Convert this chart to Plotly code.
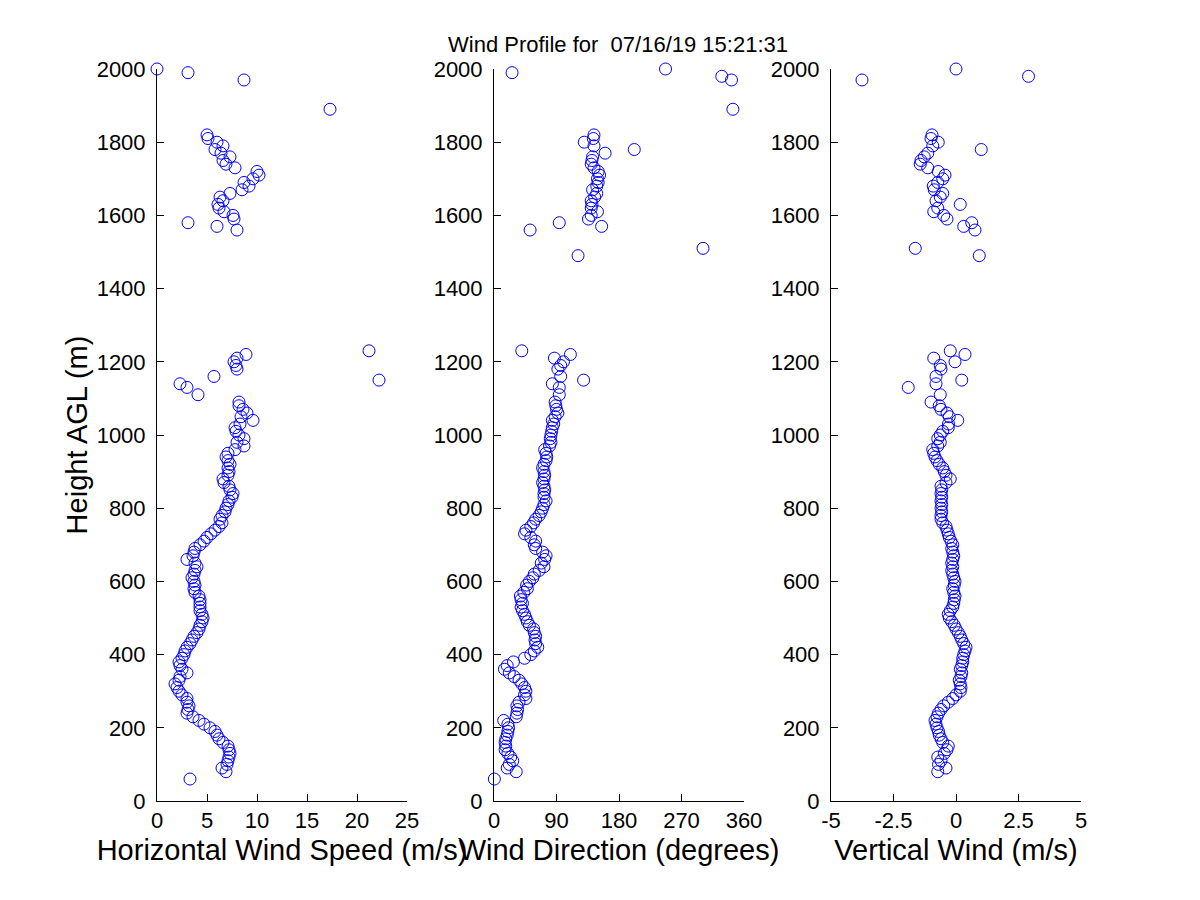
import plotly.graph_objects as go

# range gates (m AGL)
height = [60,
          80, 90, 100, 110, 120, 130, 140, 150, 160, 170,
          180, 190, 200, 210, 220, 230, 240, 250, 260, 270,
          280, 290, 300, 310, 320, 330, 340, 350, 360, 370,
          380, 390, 400, 410, 420, 430, 440, 450, 460, 470,
          480, 490, 500, 510, 520, 530, 540, 550, 560, 570,
          580, 590, 600, 610, 620, 630, 640, 650, 660, 670,
          680, 690, 700, 710, 720, 730, 740, 750, 760, 770,
          780, 790, 800, 810, 820, 830, 840, 850, 860, 870,
          880, 890, 900, 910, 920, 930, 940, 950, 960, 970,
          980, 990, 1000, 1010, 1020, 1030, 1040, 1050, 1060, 1070,
          1080, 1090,
          1110, 1130, 1140, 1150, 1160, 1180, 1190, 1200, 1210, 1220, 1230,
          1490, 1510,
          1560, 1570, 1580, 1590, 1600, 1610, 1620, 1630, 1640, 1650,
          1660, 1670, 1680, 1690, 1700, 1710, 1720, 1730, 1740, 1750,
          1760, 1770, 1780, 1790, 1800, 1810, 1820,
          1890, 1970, 1980, 1990, 2000]

# horizontal wind speed (m/s), None = no value shown
speed = [3.3,
         6.9, 6.5, 7.0, 7.1, 7.2, 7.3, 7.2, 7.1, 6.6, 6.2,
         6.0, 5.8, 5.3, 4.7, 4.2, 3.6, 3.0, 3.1, 3.2, 3.0,
         3.0, 2.5, 2.2, 2.0, 1.8, 2.2, 2.3, 3.0, 2.5, 2.3,
         2.2, 2.5, 2.7, 2.8, 3.0, 3.3, 3.5, 3.7, 4.0, 4.2,
         4.3, 4.5, 4.6, 4.5, 4.3, 4.3, 4.3, 4.3, 4.2, 3.8,
         3.7, 3.8, 3.7, 3.5, 3.7, 3.8, 4.0, 3.8, 3.0, 3.6,
         3.7, 3.8, 4.3, 4.7, 5.0, 5.4, 5.8, 6.2, 6.5, 6.3,
         6.5, 6.8, 6.9, 7.1, 7.2, 7.5, 7.6, 7.3, 7.2, 6.7,
         6.6, 7.1, 7.2, 7.1, 7.3, 7.1, 6.9, 7.1, 7.8, 8.7,
         8.0, 8.7, 8.2, 7.9, 7.8, 8.3, 9.6, 8.4, 9.0, 8.6,
         8.2, 8.2,
         4.1, 3.0, 2.3, 22.2, 5.7, 8.0, 7.9, 7.7, 8.0, 8.9, 21.2,
         None, None,
         8.0, 6.0, 3.1, 7.7, 7.6, 6.7, 6.2, 6.1, 6.6, 6.3,
         7.3, 8.5, 9.2, 8.7, 9.6, 10.2, 10.0, 7.8, 6.9, 6.6,
         7.3, 6.4, 5.8, 6.6, 6.0, 5.1, 5.0,
         17.3, 8.7, None, 3.1, 0.0]

# wind direction (degrees)
direction = [0.5,
             32, 19, 22, 27, 24, 20, 16, 17, 16, 17,
             19, 20, 21, 20, 14, 32, 33, 34, 33, 36,
             46, 44, 46, 44, 40, 36, 29, 22, 15, 19,
             28, 44, 53, 58, 63, 60, 59, 60, 58, 57,
             51, 48, 46, 44, 41, 39, 41, 39, 38, 43,
             48, 47, 51, 56, 58, 65, 72, 68, 73, 75,
             70, 60, 58, 60, 53, 44, 46, 53, 57, 60,
             65, 68, 70, 72, 75, 72, 72, 73, 72, 70,
             72, 73, 72, 70, 72, 75, 76, 75, 73, 80,
             82, 81, 82, 83, 84, 86, 84, 88, 92, 90,
             89, 88,
             94, 94, 84, 129, 96, 92, 96, 100, 87, 110, 40,
             121, 301,
             52, 155, 94, 136, 140, 149, 140, 141, 140, 145,
             148, 142, 148, 150, 149, 152, 150, 144, 140, 141,
             142, 160, 202, 144, 130, 143, 144,
             344, 342, 328, 26, 247]

# vertical wind (m/s)
vertical = [None,
            -0.73, -0.4, -0.7, -0.6, -0.73, -0.47, -0.36, -0.31, -0.53, -0.6,
            -0.67, -0.7, -0.76, -0.8, -0.84, -0.76, -0.7, -0.6, -0.49, -0.31,
            -0.13, 0.0, 0.17, 0.2, 0.17, 0.13, 0.2, 0.23, 0.17, 0.23,
            0.27, 0.27, 0.31, 0.36, 0.4, 0.31, 0.23, 0.17, 0.09, 0.0,
            -0.07, -0.17, -0.27, -0.31, -0.23, -0.13, -0.09, -0.07, -0.04, -0.09,
            -0.13, -0.07, -0.04, -0.09, -0.13, -0.17, -0.13, -0.17, -0.13, -0.09,
            -0.13, -0.17, -0.13, -0.2, -0.27, -0.31, -0.36, -0.4, -0.53, -0.6,
            -0.6, -0.57, -0.6, -0.57, -0.6, -0.57, -0.6, -0.57, -0.6, -0.4,
            -0.23, -0.4, -0.47, -0.53, -0.67, -0.76, -0.84, -0.89, -0.93, -0.73,
            -0.63, -0.73, -0.63, -0.53, -0.31, -0.3, 0.07, -0.27, -0.36, -0.6,
            -0.67, -1.0,
            -0.63, -1.91, -0.8, 0.23, -0.8, -0.6, -0.63, -0.04, -0.89, 0.36, -0.23,
            0.93, -1.63,
            0.76, 0.31, 0.63, -0.36, -0.49, -0.89, -0.73, 0.17, -0.8, -0.63,
            -0.53, -0.87, -0.91, -0.73, -0.53, -0.44, -0.71, -1.13, -1.43, -1.4,
            -1.27, -1.13, 1.01, -0.93, -0.71, -1.0, -0.96,
            None, -3.76, 2.9, None, 0.0]

height_ticks = [0, 200, 400, 600, 800, 1000, 1200, 1400, 1600, 1800, 2000]
speed_ticks = [0, 5, 10, 15, 20, 25]
dir_ticks = [0, 90, 180, 270, 360]
w_ticks = [-5, -2.5, 0, 2.5, 5]
w_labels = ["-5", "-2.5", "0", "2.5", "5"]

FONT = "Liberation Sans, Arial, sans-serif"
marker = dict(symbol="circle-open", size=12, color="#0000ff", line=dict(width=1, color="#0000ff"))

fig = go.Figure()
fig.add_trace(go.Scatter(x=speed, y=height, mode="markers", marker=marker,
                         xaxis="x", yaxis="y", cliponaxis=False))
fig.add_trace(go.Scatter(x=direction, y=height, mode="markers", marker=marker,
                         xaxis="x2", yaxis="y2", cliponaxis=False))
fig.add_trace(go.Scatter(x=vertical, y=height, mode="markers", marker=marker,
                         xaxis="x3", yaxis="y3", cliponaxis=False))

ax = dict(showline=True, linecolor="black", linewidth=1, mirror=False,
          ticks="inside", ticklen=7, tickcolor="black", tickwidth=1,
          showgrid=False, zeroline=False, automargin=False,
          tickfont=dict(family=FONT, size=22, color="black"))

# page body adds ~7px offset, so pixel positions are shifted back by that
OFF = 7
ydom = [1 - (800 - OFF) / 900, 1 - (68 - OFF) / 900]
doms = [[(156 - OFF) / 1200, (406 - OFF) / 1200],
        [(493 - OFF) / 1200, (743 - OFF) / 1200],
        [(830 - OFF) / 1200, (1080 - OFF) / 1200]]
titles = ["Horizontal Wind Speed (m/s)", "Wind Direction (degrees)", "Vertical Wind (m/s)"]
ranges = [[0, 25], [0, 360], [-5, 5]]
xticks = [speed_ticks, dir_ticks, w_ticks]

layout = dict(
    width=1200, height=900,
    margin=dict(l=0, r=0, t=0, b=0, autoexpand=False),
    paper_bgcolor="white", plot_bgcolor="white",
    showlegend=False,
    title=dict(text="Wind Profile for  07/16/19 15:21:31", x=(617 - OFF) / 1200, xanchor="center",
               y=1 - (43 - OFF) / 900, yanchor="middle", automargin=False,
               font=dict(family=FONT, size=22, color="black")),
)
for i in range(3):
    s = "" if i == 0 else str(i + 1)
    xa = dict(ax, domain=doms[i], range=ranges[i], tickvals=xticks[i], anchor="y" + s,
              ticklabelstandoff=0,
              title=dict(text=titles[i], standoff=7, font=dict(family=FONT, size=29, color="black")))
    if i == 2:
        xa["ticktext"] = w_labels
    ya = dict(ax, domain=ydom, range=[0, 2000], tickvals=height_ticks, anchor="x" + s,
              ticklabelstandoff=6)
    if i == 0:
        ya["title"] = dict(text="Height AGL (m)", standoff=0, font=dict(family=FONT, size=29, color="black"))
    layout["xaxis" + s] = xa
    layout["yaxis" + s] = ya

fig.update_layout(**layout)
fig.write_html("out.html")
